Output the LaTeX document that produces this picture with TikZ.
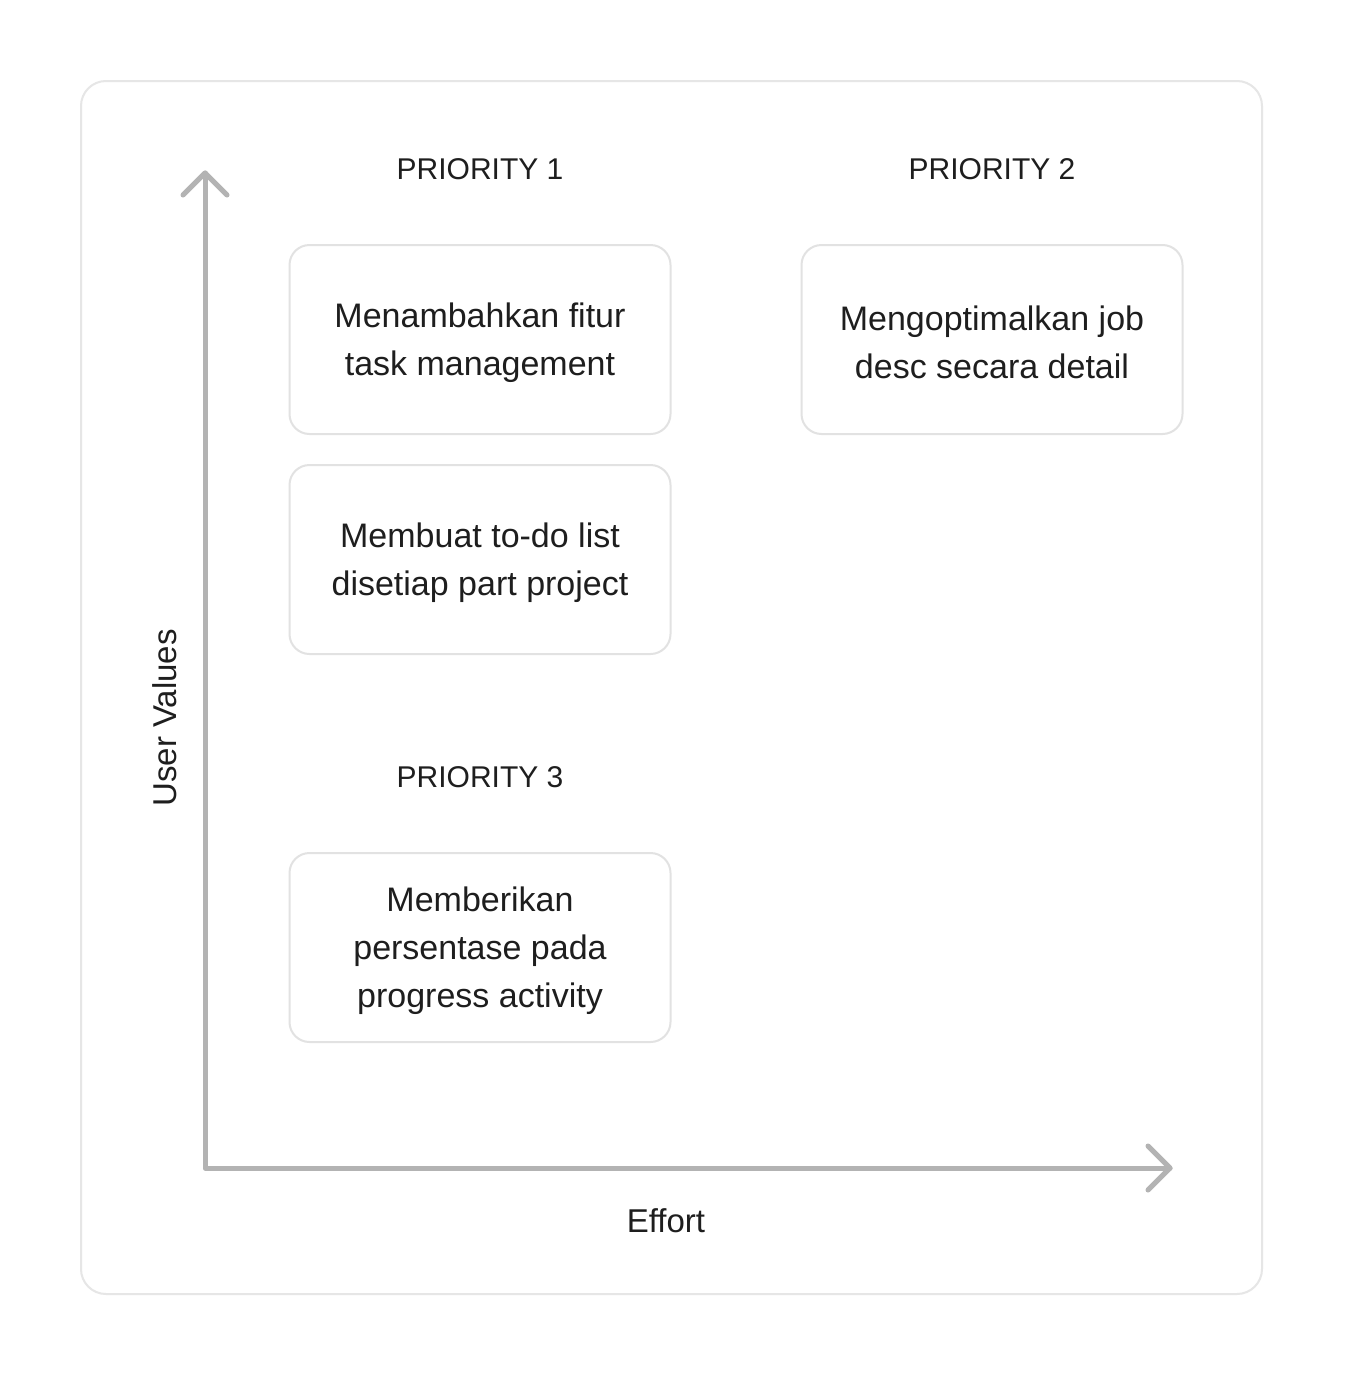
\documentclass[tikz,border=0pt]{standalone}
\usepackage{fontspec}
\setmainfont{Liberation Sans}
\usetikzlibrary{calc}
\definecolor{framec}{HTML}{E6E6E6}
\definecolor{boxc}{HTML}{E2E2E2}
\definecolor{axisc}{HTML}{B3B3B3}
\definecolor{txtc}{HTML}{1E1E1E}
\begin{document}
\begin{tikzpicture}[x=1pt,y=-1pt,
  frame/.style={draw=framec,line width=2pt,rounded corners=25pt},
  card/.style={draw=boxc,line width=2pt,rounded corners=20pt,minimum width=381pt,minimum height=189pt,inner sep=0pt},
  cardtext/.style={text=txtc,align=center,font=\fontsize{34}{48}\selectfont,inner sep=0pt,yshift=-3pt},
  lbl/.style={text=txtc,font=\fontsize{30}{36}\selectfont,inner sep=0pt},
  axlbl/.style={text=txtc,font=\fontsize{33}{38}\selectfont,inner sep=0pt},
  axis/.style={draw=axisc,line width=5pt,line cap=round,line join=round}]
\useasboundingbox (0,0) rectangle (1344,1376);
\fill[white] (0,0) rectangle (1344,1376);
\draw[frame] (81,81) rectangle (1262,1294);
\coordinate (origin) at (205,1168);
\coordinate (ytip) at (205,173);
\coordinate (xtip) at (1170,1168);
\draw[axis] (ytip) -- (origin) -- (xtip);
\draw[axis] ($(ytip)+(-22,22)$) -- (ytip) -- ($(ytip)+(22,22)$);
\draw[axis] ($(xtip)+(-22,-22)$) -- (xtip) -- ($(xtip)+(-22,22)$);
\node[lbl] (p1) at (480,169) {PRIORITY 1};
\node[lbl] (p2) at (992,169) {PRIORITY 2};
\node[lbl] (p3) at (480,777) {PRIORITY 3};
\node[card] (b1) at (480,339.5) {};
\node[card] (b2) at (480,559.5) {};
\node[card] (b3) at (480,947.5) {};
\node[card] (b4) at (992,339.5) {};
\node[cardtext] (t1) at (b1.center) {Menambahkan fitur\\task management};
\node[cardtext] (t2) at (b2.center) {Membuat to-do list\\disetiap part project};
\node[cardtext] (t3) at (b3.center) {Memberikan\\persentase pada\\progress activity};
\node[cardtext] (t4) at (b4.center) {Mengoptimalkan job\\desc secara detail};
\node[axlbl,rotate=90] (uv) at (165,718) {User Values};
\node[axlbl] (ef) at (666,1221) {Effort};
\end{tikzpicture}
\end{document}
